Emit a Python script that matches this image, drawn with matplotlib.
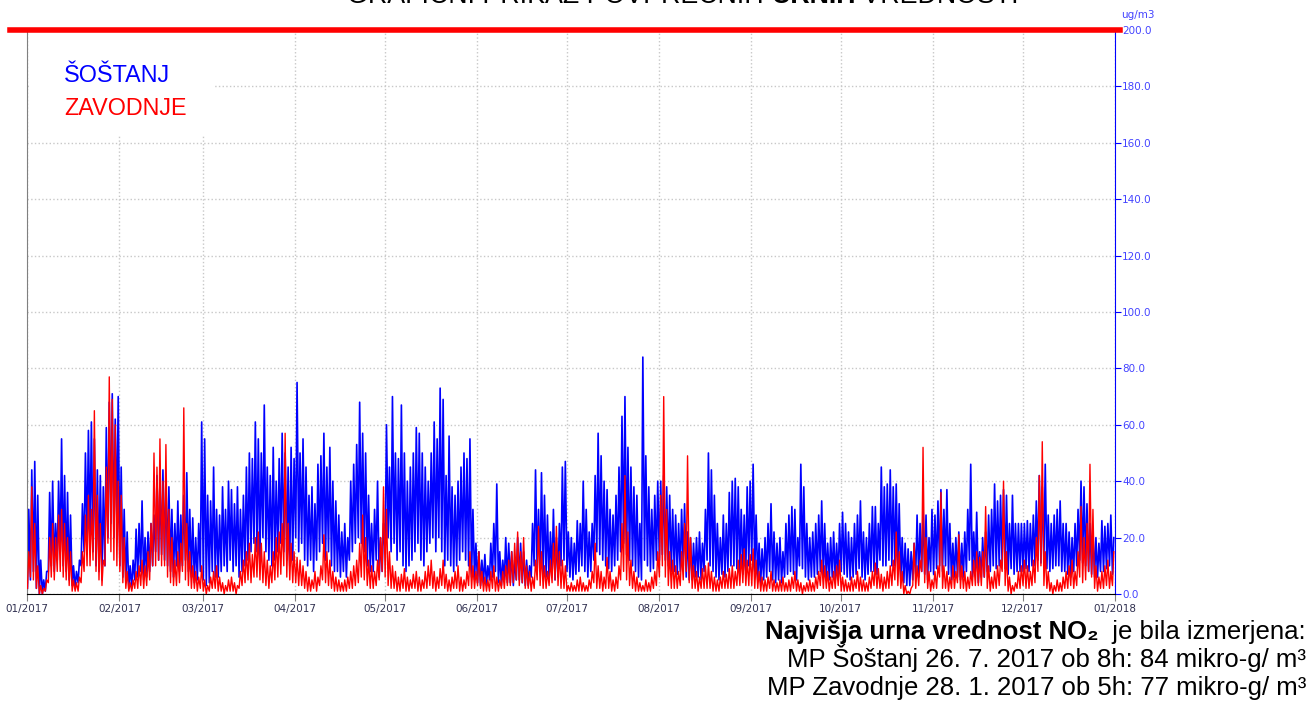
import matplotlib
matplotlib.use("Agg")
import matplotlib.pyplot as plt
import numpy as np
from matplotlib.patches import Rectangle

W, H = 1312, 704

MONTH_START = [0, 31, 59, 90, 120, 151, 181, 212, 243, 273, 304, 334, 365]
MONTH_LABELS = ["01/2017", "02/2017", "03/2017", "04/2017", "05/2017", "06/2017",
                "07/2017", "08/2017", "09/2017", "10/2017", "11/2017", "12/2017", "01/2018"]
Y_TICKS = [0, 20, 40, 60, 80, 100, 120, 140, 160, 180, 200]
LIMIT = 200

# Šoštanj, daily highs (one row per month)
blue_hi = [
    30, 44, 47, 35, 12, 5, 8, 36, 40, 25, 40, 55, 42, 36, 28, 10, 8, 12, 32, 50, 58, 61, 55, 44, 42, 38, 59, 68, 71, 62, 70,
    45, 30, 22, 10, 12, 23, 25, 33, 20, 22, 25, 28, 42, 40, 44, 40, 38, 30, 25, 33, 28, 35, 43, 30, 27, 20, 25, 61,
    55, 35, 33, 45, 30, 28, 38, 30, 40, 37, 32, 38, 30, 35, 45, 50, 48, 61, 55, 50, 67, 45, 42, 52, 40, 48, 57, 50, 45, 52, 48,
    75, 50, 55, 45, 35, 38, 32, 46, 49, 57, 45, 52, 40, 33, 28, 22, 25, 20, 40, 46, 53, 68, 57, 50, 35, 25, 30, 40, 20, 25,
    60, 45, 70, 50, 48, 67, 50, 40, 45, 50, 59, 57, 50, 45, 40, 50, 61, 55, 73, 69, 42, 56, 38, 35, 40, 45, 50, 48, 55, 30, 18,
    15, 12, 14, 10, 18, 25, 39, 15, 12, 20, 18, 15, 12, 20, 18, 15, 12, 10, 25, 44, 30, 43, 35, 28, 22, 30, 20, 25, 45, 47,
    22, 20, 18, 26, 25, 40, 30, 22, 25, 42, 57, 49, 40, 37, 30, 28, 35, 45, 63, 70, 52, 45, 38, 35, 25, 84, 49, 38, 30, 35, 40,
    40, 42, 38, 35, 30, 28, 25, 30, 32, 22, 20, 18, 20, 22, 18, 30, 50, 44, 35, 25, 20, 28, 25, 36, 40, 41, 38, 30, 28, 38, 40,
    46, 28, 18, 16, 20, 25, 32, 22, 18, 20, 15, 25, 28, 31, 30, 20, 46, 38, 25, 20, 22, 25, 28, 33, 25, 18, 20, 22, 18, 25,
    29, 25, 22, 20, 25, 28, 33, 22, 20, 25, 31, 31, 25, 45, 38, 39, 44, 38, 39, 32, 20, 18, 16, 15, 18, 28, 25, 30, 28, 20, 30,
    28, 33, 37, 30, 37, 25, 18, 20, 22, 18, 22, 30, 46, 22, 29, 15, 20, 22, 28, 30, 39, 33, 35, 37, 35, 25, 35, 25, 25, 25,
    25, 26, 25, 28, 33, 42, 38, 46, 28, 25, 28, 30, 33, 25, 25, 22, 20, 25, 30, 40, 38, 32, 25, 22, 20, 18, 26, 24, 25, 28, 20,
]

# Šoštanj, daily lows
blue_lo = [
    2, 5, 8, 2, 0, 0, 1, 8, 10, 8, 12, 15, 10, 8, 5, 3, 2, 4, 10, 15, 18, 20, 15, 10, 8, 5, 10, 20, 25, 20, 25,
    10, 6, 4, 2, 2, 5, 6, 8, 5, 6, 8, 10, 15, 12, 14, 12, 10, 8, 6, 10, 8, 10, 12, 8, 6, 4, 5, 8,
    5, 3, 4, 8, 6, 6, 8, 10, 8, 12, 8, 10, 6, 8, 10, 12, 15, 18, 15, 12, 20, 15, 12, 10, 12, 15, 18, 15, 12, 10, 12,
    20, 15, 18, 12, 10, 12, 8, 12, 15, 18, 12, 15, 10, 8, 8, 6, 8, 6, 12, 15, 18, 20, 18, 15, 10, 8, 8, 12, 6, 8,
    15, 20, 15, 18, 12, 15, 10, 8, 10, 12, 15, 18, 12, 10, 15, 18, 20, 15, 20, 15, 10, 12, 10, 8, 10, 12, 15, 12, 10, 6, 5,
    4, 3, 4, 3, 5, 6, 8, 4, 3, 5, 4, 4, 3, 5, 5, 4, 3, 3, 6, 10, 8, 8, 7, 6, 5, 7, 5, 6, 10, 12,
    8, 6, 5, 7, 8, 10, 8, 6, 8, 12, 15, 14, 12, 10, 9, 8, 10, 12, 15, 18, 14, 12, 10, 8, 6, 5, 12, 10, 8, 9, 12,
    12, 14, 12, 10, 8, 8, 7, 8, 10, 6, 5, 5, 6, 6, 5, 8, 12, 10, 8, 6, 5, 7, 6, 8, 10, 10, 9, 8, 7, 8, 10,
    12, 8, 5, 4, 5, 6, 8, 5, 4, 5, 4, 6, 7, 8, 7, 5, 10, 9, 6, 5, 6, 6, 7, 8, 6, 5, 5, 6, 5, 6,
    8, 7, 6, 5, 6, 7, 9, 6, 5, 7, 8, 8, 7, 12, 10, 10, 12, 10, 10, 8, 5, 4, 3, 3, 5, 7, 6, 8, 7, 5, 8,
    7, 9, 10, 8, 10, 7, 5, 6, 6, 5, 6, 8, 12, 6, 8, 4, 6, 6, 8, 8, 10, 9, 10, 10, 9, 7, 9, 7, 8, 8,
    8, 9, 8, 10, 10, 12, 11, 12, 9, 8, 9, 10, 10, 8, 8, 7, 6, 8, 10, 12, 11, 10, 8, 7, 6, 6, 8, 8, 9, 10, 7,
]

# Zavodnje, daily highs
red_hi = [
    15, 38, 25, 10, 3, 2, 5, 20, 25, 20, 28, 30, 25, 20, 15, 5, 4, 6, 15, 28, 35, 30, 65, 35, 25, 12, 45, 77, 69, 60, 40,
    35, 20, 8, 4, 5, 8, 10, 12, 10, 15, 25, 50, 45, 55, 40, 53, 30, 20, 12, 15, 18, 66, 25, 15, 10, 8, 6, 10,
    5, 3, 6, 8, 10, 6, 4, 3, 5, 6, 4, 3, 8, 12, 15, 18, 14, 20, 22, 18, 15, 12, 10, 15, 20, 22, 25, 57, 25, 18, 15,
    13, 12, 10, 8, 6, 5, 8, 6, 10, 21, 15, 12, 8, 6, 5, 4, 5, 6, 8, 10, 12, 18, 28, 20, 12, 10, 8, 12, 20, 38,
    30, 15, 10, 8, 6, 7, 9, 6, 5, 7, 8, 6, 5, 8, 10, 12, 8, 6, 9, 12, 7, 5, 6, 8, 10, 6, 5, 8, 15, 10, 8,
    15, 8, 6, 5, 8, 10, 6, 5, 8, 10, 12, 15, 18, 22, 15, 20, 10, 8, 6, 12, 24, 15, 10, 8, 12, 18, 24, 15, 12, 10,
    3, 4, 3, 5, 6, 4, 3, 5, 8, 18, 10, 8, 6, 13, 8, 5, 6, 10, 25, 42, 22, 12, 8, 6, 4, 3, 5, 4, 6, 8, 15,
    35, 70, 30, 15, 12, 10, 8, 15, 25, 49, 20, 10, 8, 6, 9, 10, 11, 8, 6, 5, 6, 8, 7, 9, 10, 8, 12, 14, 16, 12, 14,
    16, 12, 8, 6, 5, 6, 8, 5, 4, 5, 6, 4, 5, 6, 8, 5, 4, 3, 4, 5, 4, 6, 8, 12, 10, 8, 6, 8, 10, 12,
    6, 5, 4, 6, 5, 8, 6, 5, 4, 6, 8, 11, 9, 7, 6, 8, 10, 12, 22, 15, 8, 3, 1, 2, 18, 10, 12, 52, 20, 8, 5,
    8, 10, 36, 10, 8, 6, 10, 8, 21, 10, 8, 6, 8, 12, 15, 13, 15, 31, 10, 6, 8, 10, 12, 40, 15, 6, 3, 4, 8, 10,
    12, 10, 8, 12, 20, 42, 54, 15, 8, 4, 3, 5, 4, 6, 8, 10, 12, 8, 15, 31, 20, 25, 46, 30, 10, 6, 8, 10, 12, 8, 15,
]

# Zavodnje, daily lows
red_lo = [
    2, 6, 5, 2, 0, 0, 1, 4, 6, 5, 8, 8, 6, 5, 3, 1, 1, 1, 4, 8, 10, 10, 12, 8, 5, 3, 10, 18, 15, 12, 10,
    8, 4, 2, 1, 1, 2, 2, 3, 2, 3, 5, 10, 10, 12, 10, 10, 6, 4, 3, 3, 4, 8, 5, 3, 2, 2, 1, 2,
    1, 0, 1, 2, 2, 1, 1, 0, 1, 1, 1, 0, 2, 3, 4, 5, 4, 6, 6, 5, 4, 3, 2, 4, 5, 6, 7, 10, 6, 5, 4,
    4, 3, 3, 2, 1, 1, 2, 1, 3, 5, 4, 3, 2, 1, 1, 1, 1, 1, 2, 2, 3, 4, 6, 5, 3, 2, 2, 3, 5, 8,
    6, 3, 2, 2, 1, 1, 2, 1, 1, 2, 2, 1, 1, 2, 2, 3, 2, 1, 2, 3, 2, 1, 1, 2, 2, 1, 1, 2, 3, 2, 2,
    3, 2, 1, 1, 1, 2, 1, 1, 2, 2, 3, 3, 4, 5, 3, 4, 2, 2, 1, 2, 5, 3, 2, 2, 3, 4, 5, 3, 2, 2,
    1, 1, 1, 1, 1, 1, 1, 1, 2, 4, 2, 2, 1, 2, 2, 1, 1, 2, 5, 8, 5, 3, 2, 1, 1, 1, 1, 1, 1, 2, 3,
    6, 10, 6, 3, 2, 2, 2, 3, 5, 8, 4, 2, 2, 1, 2, 2, 2, 2, 1, 1, 1, 2, 2, 2, 2, 2, 3, 3, 4, 3, 3,
    3, 2, 2, 1, 1, 1, 2, 1, 1, 1, 1, 1, 1, 1, 2, 1, 1, 0, 1, 1, 1, 1, 2, 3, 2, 2, 1, 2, 2, 3,
    1, 1, 1, 1, 1, 2, 1, 1, 1, 1, 2, 3, 2, 2, 1, 2, 2, 3, 5, 3, 2, 0, 0, 0, 3, 2, 3, 8, 4, 2, 1,
    2, 2, 6, 2, 2, 1, 2, 2, 4, 2, 2, 1, 2, 3, 3, 3, 3, 6, 2, 1, 2, 2, 3, 8, 3, 1, 0, 1, 2, 2,
    3, 2, 2, 3, 4, 8, 10, 3, 2, 1, 0, 1, 1, 1, 2, 2, 3, 2, 3, 6, 4, 5, 8, 6, 2, 1, 2, 2, 3, 2, 3,
]

BLUE = "#0000ff"
RED = "#ff0000"
SANS = ["Liberation Sans", "DejaVu Sans"]


def zigzag(lo, hi):
    """Low then high inside each day, so the hourly swing shows as spikes."""
    days = np.arange(len(hi))
    x = np.empty(2 * len(hi))
    y = np.empty(2 * len(hi))
    x[0::2], x[1::2] = days + 0.15, days + 0.6
    y[0::2], y[1::2] = lo, hi
    return x, y


def place_runs(fig, runs, y, size, x_right=None, x_center=None, color="black"):
    """Put differently-weighted text runs side by side on one baseline (pixel coords)."""
    r = fig.canvas.get_renderer()
    texts = [fig.text(0, 1 - y / H, s, fontsize=size, fontweight=w, family=SANS,
                      color=color, va="baseline", ha="left") for s, w in runs]
    widths = [t.get_window_extent(r).width for t in texts]
    total = sum(widths)
    x0 = x_right - total if x_right is not None else x_center - total / 2
    for t, w in zip(texts, widths):
        t.set_x(x0 / W)
        x0 += w


def main():
    fig = plt.figure(figsize=(W / 100, H / 100), dpi=100)
    ax = fig.add_axes([27 / W, 1 - 594 / H, (1115 - 27) / W, (594 - 30) / H])

    bx, by = zigzag(blue_lo, blue_hi)
    rx, ry = zigzag(red_lo, red_hi)
    ax.plot(bx, by, color=BLUE, lw=1.2, zorder=2)
    ax.plot(rx, ry, color=RED, lw=1.0, zorder=3)

    ax.axhline(LIMIT, xmin=-0.016, xmax=1.005, color=RED, lw=4, clip_on=False, zorder=5)

    ax.set_xlim(0, 365)
    ax.set_ylim(0, 200)
    ax.set_xticks(MONTH_START)
    ax.set_xticklabels(MONTH_LABELS, fontsize=7.5, color="#303050")
    ax.set_yticks(Y_TICKS)
    ax.set_yticklabels([f"{v:.1f}" for v in Y_TICKS], fontsize=7.5, color="#4444ff")
    ax.yaxis.tick_right()
    ax.tick_params(axis="x", length=5, color="#808080", pad=2)
    ax.tick_params(axis="y", length=4, color=BLUE, pad=1)
    ax.grid(True, color="#c8c8c8", ls=":", lw=1)

    ax.spines["top"].set_visible(False)
    ax.spines["left"].set_color("#808080")
    ax.spines["right"].set_color(BLUE)
    ax.spines["bottom"].set_color("black")

    fig.text(1121 / W, 1 - 18 / H, "ug/m3", fontsize=7.5, color="#4444ff")

    # legend panel
    fig.patches.append(Rectangle((30 / W, 1 - 135 / H), 183 / W, 102 / H,
                                 transform=fig.transFigure, facecolor="white",
                                 edgecolor="none", zorder=1))
    fig.text(64 / W, 1 - 82 / H, "ŠOŠTANJ", fontsize=16.8, color=BLUE, family=SANS, zorder=2)
    fig.text(64 / W, 1 - 115 / H, "ZAVODNJE", fontsize=16.8, color=RED, family=SANS, zorder=2)

    # title, mostly cut off at the top edge like in the source screenshot
    place_runs(fig, [("GRAFIČNI PRIKAZ POVPREČNIH ", "normal"), ("URNIH", "bold"),
                     (" VREDNOSTI", "normal")], y=3, size=19.3, x_center=683)

    place_runs(fig, [("Najvišja urna vrednost NO₂", "bold"), ("  je bila izmerjena:", "normal")],
               y=639, size=18.5, x_right=1306)
    place_runs(fig, [("MP Šoštanj 26. 7. 2017 ob 8h: 84 mikro-g/ m³", "normal")],
               y=667, size=18.5, x_right=1306)
    place_runs(fig, [("MP Zavodnje 28. 1. 2017 ob 5h: 77 mikro-g/ m³", "normal")],
               y=695, size=18.5, x_right=1306)

    fig.savefig("out.png", dpi=100)


if __name__ == "__main__":
    main()
